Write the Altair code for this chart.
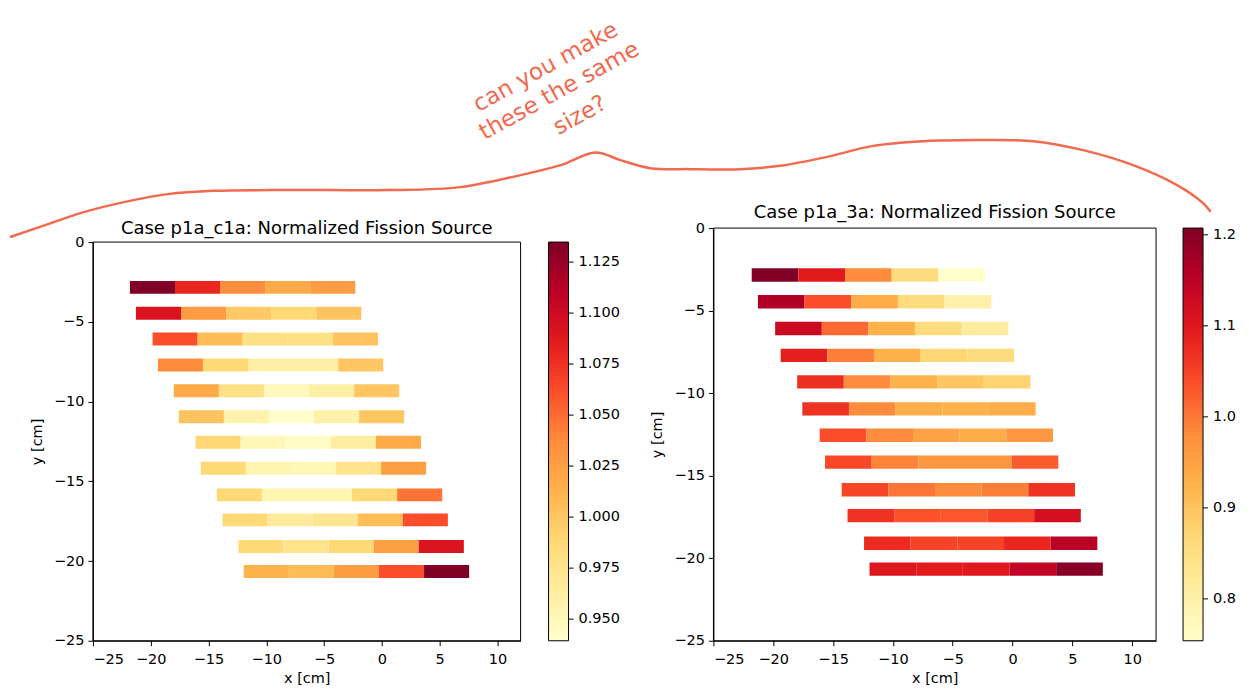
import altair as alt
import numpy as np
import pandas as pd

# ---------------- data ----------------
ROW_Y = [-2.84, -4.46, -6.08, -7.71, -9.32, -10.95, -12.55, -14.18, -15.85, -17.42, -19.09, -20.66]
ROW_X0 = [-21.80, -21.28, -19.84, -19.38, -18.00, -17.57, -16.12, -15.67, -14.28, -13.79, -12.41, -11.95]
SEG_W = 3.9
BAR_H = 0.81

LEFT_VALUES = [
    [1.1348, 1.080, 1.037, 1.018, 1.027],
    [1.092, 1.027, 0.998, 0.988, 1.002],
    [1.062, 1.006, 0.980, 0.979, 1.002],
    [1.037, 0.988, 0.961, 0.961, 1.000],
    [1.018, 0.979, 0.949, 0.961, 1.000],
    [1.002, 0.957, 0.9394, 0.959, 1.000],
    [0.990, 0.951, 0.943, 0.963, 1.018],
    [0.988, 0.955, 0.951, 0.975, 1.025],
    [0.988, 0.955, 0.955, 0.988, 1.047],
    [0.988, 0.967, 0.973, 1.006, 1.062],
    [0.988, 0.975, 0.988, 1.025, 1.092],
    [1.013, 1.006, 1.027, 1.062, 1.1348],
]

RIGHT_VALUES = [
    [1.2074, 1.094, 0.981, 0.858, 0.754],
    [1.162, 1.039, 0.935, 0.858, 0.799],
    [1.130, 1.012, 0.924, 0.858, 0.813],
    [1.089, 0.994, 0.926, 0.872, 0.858],
    [1.071, 0.981, 0.924, 0.894, 0.876],
    [1.067, 0.981, 0.931, 0.924, 0.931],
    [1.039, 0.981, 0.949, 0.935, 0.967],
    [1.044, 0.990, 0.967, 0.967, 1.026],
    [1.048, 1.003, 0.981, 0.994, 1.067],
    [1.067, 1.035, 1.030, 1.053, 1.116],
    [1.076, 1.048, 1.048, 1.080, 1.153],
    [1.103, 1.094, 1.098, 1.144, 1.200],
]

LEFT_TITLE = "Case p1a_c1a: Normalized Fission Source"
RIGHT_TITLE = "Case p1a_3a: Normalized Fission Source"
X_TITLE = "x [cm]"
Y_TITLE = "y [cm]"
XLIM = [-25, 12]
YLIM = [-25, 0]
X_TICKS = [-25, -20, -15, -10, -5, 0, 5, 10]
Y_TICKS = [0, -5, -10, -15, -20, -25]
LEFT_CBAR_TICKS = [0.950, 0.975, 1.000, 1.025, 1.050, 1.075, 1.100, 1.125]
RIGHT_CBAR_TICKS = [0.8, 0.9, 1.0, 1.1, 1.2]

YLORRD = ["#ffffcc", "#ffeda0", "#fed976", "#feb24c", "#fd8d3c",
          "#fc4e2a", "#e31a1c", "#bd0026", "#800026"]

# hand-drawn annotation (canvas pixel coordinates)
NOTE_LINES = ["can you make", "these the same", "size?"]
NOTE_X = [478, 484, 558]
NOTE_Y = [112, 140, 135]
CURVE_X = [10, 50, 83, 123, 167, 213, 270, 330, 387, 460, 520, 560, 595,
           620, 650, 690, 740, 780, 827, 873, 923, 960, 1033, 1083, 1133,
           1177, 1203, 1210]
CURVE_Y = [236.7, 223, 212, 202, 194, 190.7, 190, 190, 190, 187, 175, 165,
           152.3, 160, 168, 169, 169, 165.7, 156.7, 145.7, 141, 140, 141,
           150, 165, 185, 203, 211]

FONT = "DejaVu Sans"
NOTE_COLOR = "#f06a4f"
TICK_FS = 14.5
TITLE_FS = 18
CBAR_W = 20


def bars_frame(values):
    recs = []
    for r, (yc, x0) in enumerate(zip(ROW_Y, ROW_X0)):
        for s, v in enumerate(values[r]):
            recs.append({"x": x0 + s * SEG_W, "x2": x0 + (s + 1) * SEG_W,
                         "y": yc - BAR_H / 2, "y2": yc + BAR_H / 2, "v": v})
    return pd.DataFrame(recs)


def panel(values, title, w, h, top, cbar_ticks, cbar_fmt, legend_x, title_dy):
    df = bars_frame(values)
    flat = [v for row in values for v in row]
    vmin, vmax = min(flat), max(flat)
    stops = list(np.linspace(vmin, vmax, len(YLORRD)))
    xscale = alt.Scale(domain=XLIM, nice=False, zero=False)
    yscale = alt.Scale(domain=YLIM, nice=False, zero=False, range=[h, top])
    xaxis = alt.Axis(values=X_TICKS, format="d", title=X_TITLE, grid=False,
                     labelPadding=7)
    yaxis = alt.Axis(values=Y_TICKS, format="d", title=Y_TITLE, grid=False,
                     labelPadding=4, titlePadding=9)
    bars = alt.Chart(df).mark_rect(strokeWidth=0).encode(
        x=alt.X("x:Q", scale=xscale, axis=xaxis),
        x2="x2:Q",
        y=alt.Y("y:Q", scale=yscale, axis=yaxis),
        y2="y2:Q",
        color=alt.Color(
            "v:Q",
            scale=alt.Scale(domain=stops, range=YLORRD, interpolate="rgb"),
            legend=alt.Legend(
                orient="none", legendX=legend_x, legendY=top,
                direction="vertical", title=None,
                gradientLength=h - top, gradientThickness=CBAR_W,
                gradientStrokeColor="black", gradientStrokeWidth=1,
                values=cbar_ticks, format=cbar_fmt,
                labelFontSize=TICK_FS, labelFont=FONT, labelColor="black",
                labelOffset=10, labelOverlap=False,
            ),
        ),
    )
    frame_df = pd.DataFrame({"x": [XLIM[0]], "x2": [XLIM[1]],
                             "y": [YLIM[0]], "y2": [YLIM[1]]})
    frame = alt.Chart(frame_df).mark_rect(
        fillOpacity=0, stroke="black", strokeWidth=1
    ).encode(
        x=alt.X("x:Q", scale=xscale, axis=xaxis),
        x2="x2:Q",
        y=alt.Y("y:Q", scale=yscale, axis=None),
        y2="y2:Q",
    )
    # colorbar tick marks (matplotlib style) on the colorbar's value scale
    cb_df = pd.DataFrame({"t": cbar_ticks})
    cscale = alt.Scale(domain=[vmin, vmax], range=[h, top], nice=False, zero=False)
    cticks = alt.Chart(cb_df).mark_rule(color="black", strokeWidth=1).encode(
        x=alt.value(legend_x + CBAR_W),
        x2=alt.value(legend_x + CBAR_W + 5),
        y=alt.Y("t:Q", scale=cscale, axis=None),
    )
    return alt.layer(bars, frame, cticks).resolve_scale(
        y="independent"
    ).properties(
        width=w, height=h,
        title=alt.TitleParams(
            text=title, fontSize=TITLE_FS, font=FONT, fontWeight="normal",
            color="black", anchor="middle", offset=-16,
            baseline="alphabetic", dy=title_dy,
        ),
    )


left = panel(LEFT_VALUES, LEFT_TITLE, 428, 413, 14, LEFT_CBAR_TICKS, ".3f", 456, 8)
right = panel(RIGHT_VALUES, RIGHT_TITLE, 443, 413, 0, RIGHT_CBAR_TICKS, ".1f", 470, 0)

# annotation layer (its plot area ends where the right panel's plot starts)
ANN_W, ANN_H = 1157, 228
ax = alt.Scale(domain=[92, 92 + ANN_W], nice=False, zero=False)
ay = alt.Scale(domain=[0, ANN_H], nice=False, zero=False, reverse=True)
curve_df = pd.DataFrame({"x": CURVE_X, "y": CURVE_Y, "i": range(len(CURVE_X))})
note_df = pd.DataFrame({"x": NOTE_X, "y": NOTE_Y, "t": NOTE_LINES})
curve = alt.Chart(curve_df).mark_line(
    color=NOTE_COLOR, strokeWidth=2.5, interpolate="catmull-rom", strokeCap="round"
).encode(
    x=alt.X("x:Q", scale=ax, axis=None),
    y=alt.Y("y:Q", scale=ay, axis=None),
    order="i:Q",
)
note = alt.Chart(note_df).mark_text(
    color=NOTE_COLOR, fontSize=23, font=FONT,
    angle=331, align="left", baseline="alphabetic",
).encode(
    x=alt.X("x:Q", scale=ax, axis=None),
    y=alt.Y("y:Q", scale=ay, axis=None),
    text="t:N",
)
annot = alt.layer(curve, note).properties(width=ANN_W, height=ANN_H)

row = alt.hconcat(left, right, spacing=29).resolve_scale(color="independent")

chart = alt.vconcat(annot, row, spacing=0, bounds="flush").properties(
    padding={"left": 6, "top": 0, "right": 0, "bottom": 0},
    background="white",
).configure_view(
    strokeWidth=0
).configure_axis(
    labelFont=FONT, labelFontSize=TICK_FS, labelColor="black",
    titleFont=FONT, titleFontSize=TICK_FS, titleColor="black", titleFontWeight="normal",
    tickColor="black", tickSize=5, tickWidth=1,
    domainColor="black", domainWidth=1, titlePadding=5,
)

chart.save("out.html", embed_options={"renderer": "svg", "actions": False})
